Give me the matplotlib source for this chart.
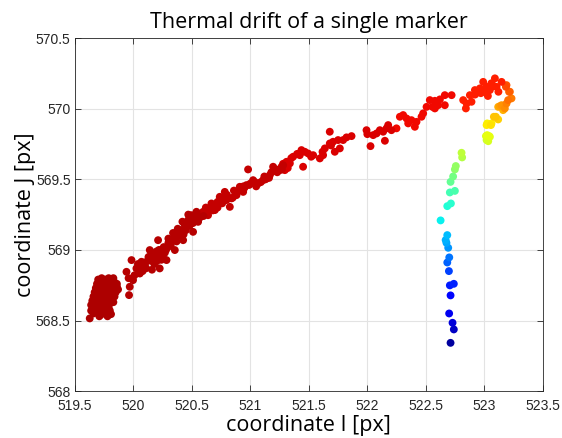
import matplotlib
matplotlib.use("Agg")
import matplotlib.pyplot as plt
import numpy as np

# colored trail at the start (blue -> orange), color = time fraction
trail_x = [522.711, 522.739, 522.728, 522.699, 522.711, 522.705, 522.739, 522.697, 522.683, 522.700,
           522.691, 522.676, 522.669, 522.683, 522.626, 522.683, 522.714, 522.705, 522.748, 522.711,
           522.733, 522.748, 522.756, 522.810, 522.805,
           523.019, 523.033, 523.047, 523.013, 523.024, 523.041, 523.024, 523.061, 523.019, 523.056,
           523.118, 523.098, 523.081, 523.160, 523.118, 523.132, 523.147, 523.175, 523.189, 523.232,
           523.203, 523.218, 523.211, 523.189, 523.184]
trail_y = [568.342, 568.437, 568.484, 568.550, 568.678, 568.749, 568.760, 568.850, 568.911, 568.947,
           569.015, 569.050, 569.070, 569.105, 569.209, 569.310, 569.329, 569.407, 569.418, 569.482,
           569.520, 569.570, 569.594, 569.655, 569.688,
           569.778, 569.770, 569.801, 569.806, 569.813, 569.806, 569.896, 569.896, 569.884, 569.884,
           569.924, 569.943, 569.943, 569.990, 570.013, 570.018, 570.025, 570.002, 570.037, 570.073,
           570.061, 570.120, 570.120, 570.167, 570.155]
trail_c = [0.03, 0.06, 0.08, 0.10, 0.13, 0.15, 0.16, 0.19, 0.22, 0.24,
           0.27, 0.29, 0.30, 0.31, 0.36, 0.39, 0.40, 0.43, 0.44, 0.47,
           0.49, 0.52, 0.53, 0.57, 0.58,
           0.60, 0.61, 0.62, 0.62, 0.63, 0.63, 0.65, 0.66, 0.66, 0.67,
           0.69, 0.70, 0.70, 0.72, 0.73, 0.74, 0.75, 0.76, 0.77, 0.78,
           0.79, 0.80, 0.81, 0.82, 0.83]

# red part of the drift, split in segments (top right -> lower left cluster)
top_x = [523.147, 523.104, 523.090, 523.047, 523.019, 522.990, 523.060, 522.962, 522.919, 522.890,
         522.876, 522.848, 522.842, 522.819, 522.920, 522.970, 523.000, 523.030, 523.120, 523.080]
top_y = [570.190, 570.155, 570.215, 570.132, 570.155, 570.190, 570.180, 570.144, 570.132, 570.049,
         570.096, 570.037, 570.002, 570.061, 570.100, 570.110, 570.120, 570.090, 570.120, 570.160]
top_c = 0.875

right_x = [522.720, 522.662, 522.662, 522.620, 522.605, 522.577, 522.557, 522.577, 522.534, 522.506,
           522.477, 522.463, 522.420, 522.406, 522.377, 522.335, 522.306, 522.278, 522.349, 522.249]
right_y = [570.096, 570.096, 570.025, 570.066, 570.025, 570.056, 570.013, 570.002, 570.061, 570.013,
           569.967, 569.943, 569.907, 569.872, 569.919, 569.931, 569.955, 569.943, 569.896, 569.861]
right_c = 0.9

upper_x = [522.206, 522.178, 522.164, 522.135, 522.107, 522.079, 522.050, 521.993, 522.000, 522.150,
           522.027, 521.865, 521.822, 521.793, 521.750, 521.707, 521.679, 521.679, 521.690, 521.765,
           521.722, 521.637, 521.617, 521.622, 521.594, 521.537, 521.520, 521.494, 521.466, 521.437,
           521.423, 521.400, 521.366, 521.350, 521.338, 521.309, 521.280, 521.267, 521.295, 521.451,
           521.320]
upper_y = [569.848, 569.884, 569.861, 569.837, 569.848, 569.825, 569.813, 569.848, 569.820, 569.773,
           569.735, 569.806, 569.797, 569.778, 569.778, 569.766, 569.837, 569.754, 569.740, 569.719,
           569.695, 569.719, 569.695, 569.671, 569.648, 569.671, 569.660, 569.683, 569.695, 569.707,
           569.671, 569.680, 569.660, 569.650, 569.613, 569.624, 569.610, 569.589, 569.565, 569.589,
           569.580]
upper_c = 0.92

mid_x = [521.252, 521.281, 521.195, 521.230, 521.167, 521.138, 521.109, 521.067, 521.024, 520.981,
         520.990, 520.967, 520.950, 520.939, 520.910, 520.882, 520.860, 520.839, 520.825, 520.796,
         520.782, 520.770, 520.739, 520.720, 520.697, 520.710, 520.668, 520.639, 520.650, 520.597,
         520.620, 521.050, 521.090, 521.200, 521.160, 521.120,
         520.680, 520.720, 520.760, 520.800, 520.850, 520.900, 520.940, 521.000, 521.040, 521.130,
         521.180, 521.220, 521.270]
mid_y = [569.565, 569.600, 569.589, 569.550, 569.530, 569.506, 569.494, 569.471, 569.494, 569.570,
         569.460, 569.459, 569.440, 569.411, 569.447, 569.388, 569.420, 569.365, 569.305, 569.353,
         569.411, 569.370, 569.376, 569.340, 569.282, 569.310, 569.329, 569.246, 569.290, 569.270,
         569.300, 569.450, 569.480, 569.560, 569.510, 569.520,
         569.280, 569.300, 569.330, 569.390, 569.370, 569.420, 569.450, 569.470, 569.480, 569.500,
         569.550, 569.570, 569.570]
mid_c = 0.94

lower_x = [520.554, 520.540, 520.570, 520.511, 520.497, 520.520, 520.469, 520.480, 520.440, 520.450,
           520.426, 520.412, 520.390, 520.369, 520.355, 520.370, 520.340, 520.320, 520.312, 520.298,
           520.284, 520.270, 520.255, 520.226, 520.240, 520.212, 520.198, 520.180, 520.169, 520.150,
           520.141, 520.120, 520.100, 520.070, 520.080, 520.056, 520.040, 520.027, 520.010, 519.998,
           519.985, 519.970, 519.964, 519.942, 519.960, 520.200, 520.160, 520.300, 520.420, 520.600,
           520.050, 520.090, 520.130, 520.170, 520.220, 520.260, 520.300, 520.340, 520.380, 520.430,
           520.470, 520.510, 520.550, 520.200, 520.240, 520.110, 520.160, 520.280, 520.330]
lower_y = [569.199, 569.270, 569.230, 569.128, 569.246, 569.210, 569.211, 569.170, 569.176, 569.140,
           569.069, 569.140, 569.100, 569.117, 568.999, 569.060, 569.081, 569.030, 569.057, 569.022,
           568.928, 568.980, 568.963, 568.869, 568.930, 569.069, 568.940, 568.900, 568.916, 568.960,
           568.999, 568.920, 568.880, 568.916, 568.850, 568.833, 568.900, 568.869, 568.820, 568.786,
           568.928, 568.739, 568.680, 568.845, 568.800, 568.990, 568.860, 569.080, 569.200, 569.240,
           568.870, 568.910, 568.950, 568.980, 569.000, 569.020, 569.050, 569.120, 569.150, 569.110,
           569.250, 569.190, 569.240, 568.920, 568.960, 568.870, 568.930, 569.000, 569.060]
lower_c = 0.95

cluster_x = [519.70, 519.73, 519.76, 519.79, 519.82, 519.84, 519.69, 519.72, 519.75, 519.78,
             519.81, 519.86, 519.87, 519.68, 519.71, 519.74, 519.77, 519.80, 519.83, 519.85,
             519.67, 519.70, 519.73, 519.76, 519.79, 519.82, 519.84, 519.66, 519.69, 519.72,
             519.75, 519.78, 519.81, 519.65, 519.68, 519.71, 519.74, 519.77, 519.80, 519.83,
             519.64, 519.67, 519.70, 519.73, 519.76, 519.79, 519.65, 519.68, 519.71, 519.74,
             519.77, 519.80, 519.66, 519.69, 519.72, 519.75, 519.78, 519.71, 519.628, 519.81,
             519.64, 519.86, 519.83]
cluster_y = [568.79, 568.80, 568.79, 568.80, 568.78, 568.77, 568.76, 568.77, 568.76, 568.77,
             568.75, 568.74, 568.72, 568.73, 568.74, 568.73, 568.74, 568.72, 568.71, 568.70,
             568.70, 568.71, 568.70, 568.71, 568.69, 568.68, 568.67, 568.67, 568.68, 568.67,
             568.66, 568.67, 568.65, 568.64, 568.65, 568.64, 568.63, 568.64, 568.62, 568.63,
             568.61, 568.62, 568.61, 568.60, 568.61, 568.59, 568.58, 568.59, 568.57, 568.58,
             568.56, 568.57, 568.55, 568.56, 568.54, 568.55, 568.53, 568.53, 568.515, 568.545,
             568.57, 568.76, 568.80]
cluster_c = 0.958

segments = [(top_x, top_y, top_c), (right_x, right_y, right_c), (upper_x, upper_y, upper_c),
            (mid_x, mid_y, mid_c), (lower_x, lower_y, lower_c), (cluster_x, cluster_y, cluster_c)]

xs = list(trail_x)
ys = list(trail_y)
cs = list(trail_c)
for sx, sy, sc in segments:
    xs += sx
    ys += sy
    cs += [sc] * len(sx)

fig = plt.figure(figsize=(5.62, 4.38), dpi=100)
ax = fig.add_axes([0.133, 0.107, 0.833, 0.806])
ax.scatter(xs, ys, c=cs, cmap='jet', vmin=0, vmax=1, s=32, linewidths=0, zorder=3)

ax.set_xlim(519.5, 523.5)
ax.set_ylim(568, 570.5)
ax.set_xticks(np.arange(519.5, 523.51, 0.5))
ax.set_yticks(np.arange(568, 570.51, 0.5))
ax.set_xticklabels(['519.5', '520', '520.5', '521', '521.5', '522', '522.5', '523', '523.5'])
ax.set_yticklabels(['568', '568.5', '569', '569.5', '570', '570.5'])
ax.grid(True, color='#e3e3e3', linewidth=0.8, zorder=0)
ax.set_axisbelow(True)
ax.tick_params(direction='in', top=True, right=True, length=4, width=0.6, colors='#262626',
               labelsize=10)
ax.tick_params(axis='x', pad=6)
ax.tick_params(axis='y', pad=3)
for lab in ax.get_xticklabels() + ax.get_yticklabels():
    lab.set_family('Liberation Sans')
for sp in ax.spines.values():
    sp.set_color('#262626')
    sp.set_linewidth(0.6)

ax.set_title('Thermal drift of a single marker', fontsize=15.5, family='Open Sans', pad=7)
ax.set_xlabel('coordinate I [px]', fontsize=15.5, family='Open Sans', labelpad=1)
ax.set_ylabel('coordinate J [px]', fontsize=15.5, family='Open Sans', labelpad=0)

fig.savefig('out.png', dpi=100)
